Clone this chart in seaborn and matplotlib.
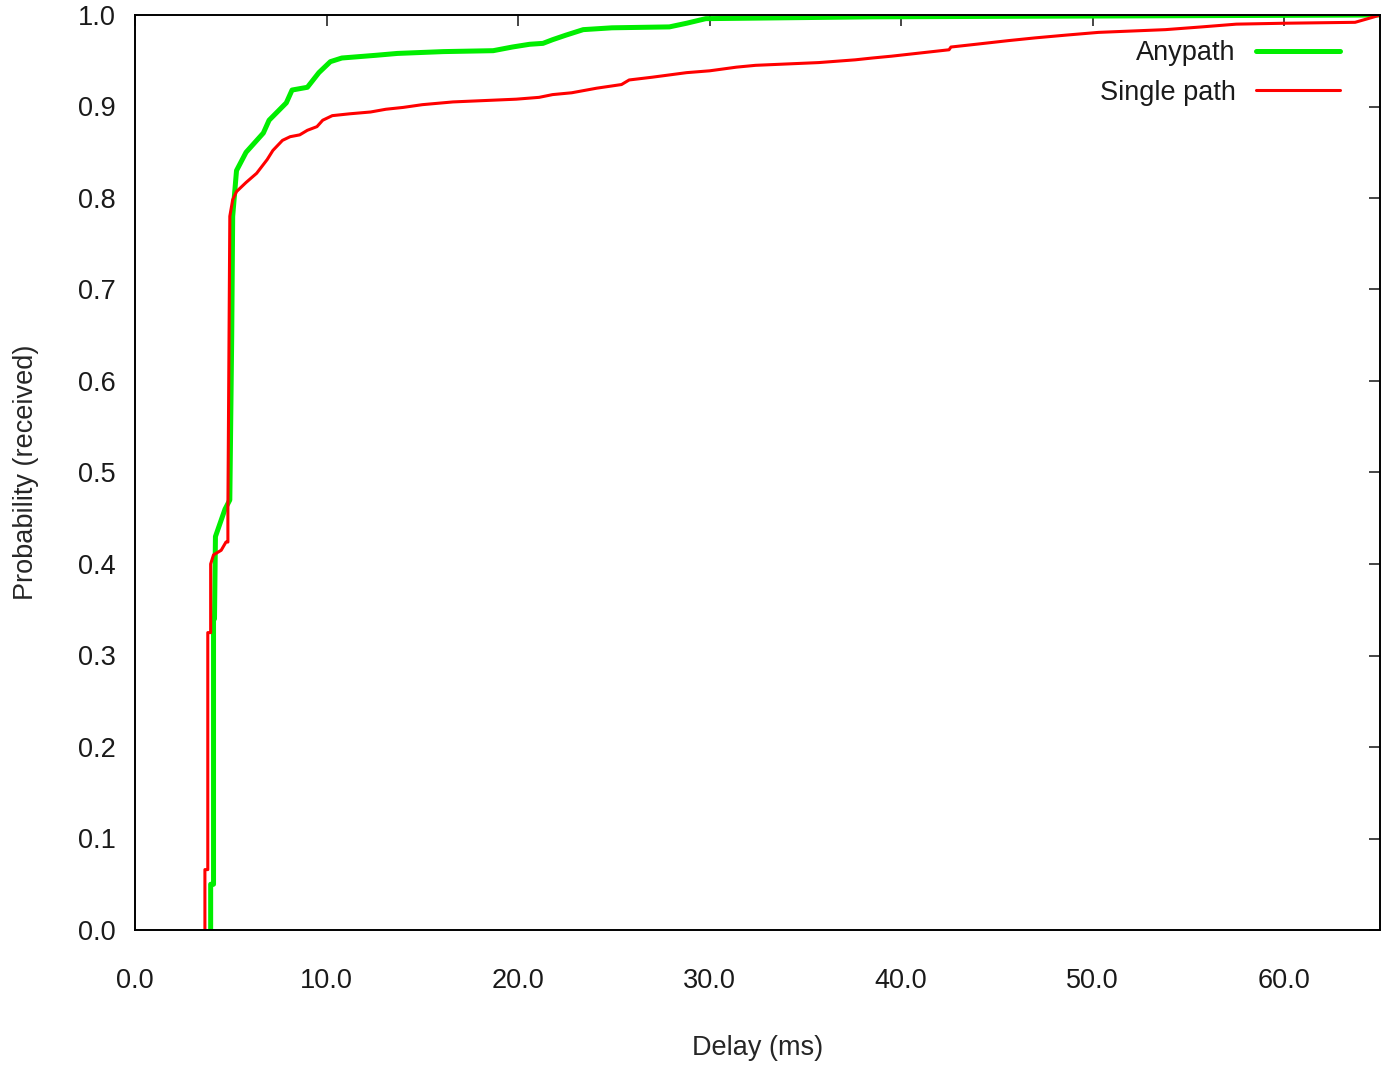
import matplotlib
matplotlib.use("Agg")
import matplotlib.pyplot as plt
import seaborn as sns
from matplotlib.ticker import FormatStrFormatter, MultipleLocator

# Anypath CDF (delay in ms, cumulative probability)
any_delay = [3.95, 3.95, 4.1, 4.1, 4.15, 4.2, 4.7, 4.95, 5.05, 5.1, 5.3, 5.8, 6.7, 7.0,
             7.9, 8.2, 9.0, 9.6, 10.2, 10.8, 12.6, 13.7, 16.1, 18.7, 19.7, 20.6, 21.3,
             21.8, 22.5, 23.4, 24.9, 27.9, 28.8, 29.8, 38.5, 65.0]
any_prob = [0.0, 0.05, 0.05, 0.34, 0.34, 0.43, 0.46, 0.47, 0.65, 0.78, 0.83, 0.85, 0.871,
            0.885, 0.904, 0.918, 0.921, 0.937, 0.949, 0.953, 0.956, 0.958, 0.96, 0.961,
            0.965, 0.968, 0.969, 0.973, 0.978, 0.984, 0.986, 0.987, 0.991, 0.996, 0.998, 1.0]

# Single path CDF
single_delay = [3.65, 3.65, 3.8, 3.8, 3.95, 3.95, 4.1, 4.5, 4.75, 4.85, 4.85, 4.95, 5.1,
                5.3, 5.8, 6.35, 6.9, 7.2, 7.7, 8.1, 8.6, 9.0, 9.5, 9.8, 10.3, 11.2, 12.3,
                13.1, 14.0, 15.0, 16.6, 19.9, 21.1, 21.8, 22.8, 24.1, 25.4, 25.8, 27.0,
                28.8, 30.0, 30.7, 31.4, 32.4, 35.7, 37.6, 38.5, 39.5, 42.5, 42.6, 43.9,
                45.6, 47.0, 48.6, 50.3, 53.8, 55.7, 57.5, 60.0, 63.7, 64.2, 64.7, 65.0]
single_prob = [0.0, 0.066, 0.066, 0.325, 0.325, 0.40, 0.41, 0.415, 0.424, 0.424, 0.46,
               0.78, 0.798, 0.807, 0.817, 0.827, 0.842, 0.852, 0.863, 0.867, 0.869, 0.874,
               0.878, 0.885, 0.89, 0.892, 0.894, 0.897, 0.899, 0.902, 0.905, 0.908, 0.910,
               0.913, 0.915, 0.92, 0.924, 0.929, 0.932, 0.937, 0.939, 0.941, 0.943, 0.945,
               0.948, 0.951, 0.953, 0.955, 0.962, 0.965, 0.968, 0.972, 0.975, 0.978, 0.981,
               0.984, 0.987, 0.99, 0.991, 0.992, 0.995, 0.998, 1.0]

sns.set_style("white")
plt.rcParams["font.family"] = ["Liberation Sans", "DejaVu Sans"]
plt.rcParams["text.color"] = "#1a1a1a"

fig = plt.figure(figsize=(13.95, 10.70), dpi=100)
ax = fig.add_axes([135 / 1395, 1 - 930 / 1070, 1245 / 1395, 915 / 1070])

sns.lineplot(x=any_delay, y=any_prob, ax=ax, color="#00ee00", linewidth=3.6,
             sort=False, estimator=None, label="Anypath")
sns.lineplot(x=single_delay, y=single_prob, ax=ax, color="#ff0000", linewidth=2.2,
             sort=False, estimator=None, label="Single path")

ax.set_xlim(0, 65)
ax.set_ylim(0, 1.0)
ax.xaxis.set_major_locator(MultipleLocator(10))
ax.yaxis.set_major_locator(MultipleLocator(0.1))
ax.xaxis.set_major_formatter(FormatStrFormatter("%.1f"))
ax.yaxis.set_major_formatter(FormatStrFormatter("%.1f"))

ax.tick_params(direction="in", length=8, width=1.2, top=True, right=True,
               labelsize=19.5, labelcolor="#1a1a1a")
ax.tick_params(axis="x", pad=27)
ax.tick_params(axis="y", pad=14)
for s in ax.spines.values():
    s.set_visible(True)
    s.set_color("black")
    s.set_linewidth(1.4)

ax.set_xlabel("Delay (ms)", fontsize=19.5, labelpad=30)
ax.set_ylabel("Probability (received)", fontsize=19.5, labelpad=28)

leg = ax.legend(loc="upper right", bbox_to_anchor=((1340 - 135) / 1245, (930 - 40) / 915),
                frameon=False, markerfirst=False, fontsize=19.5, handlelength=3.1,
                handletextpad=0.75, labelspacing=0.5, borderaxespad=0, borderpad=0)

fig.savefig("out.png", dpi=100)
